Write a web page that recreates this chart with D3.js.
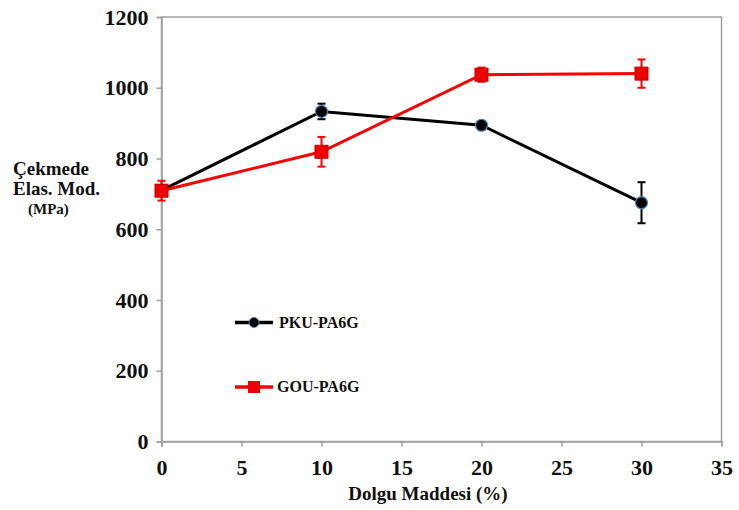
<!DOCTYPE html>
<html><head><meta charset="utf-8">
<script src="https://cdn.jsdelivr.net/npm/d3@7"></script>
<style>body{margin:0;background:#fff}svg{display:block}text{font-family:"Liberation Serif","Times New Roman",serif;font-weight:bold;fill:#111}</style>
</head><body><svg id="c" width="739" height="510"></svg>
<script>
const fillerPct = [0, 10, 20, 30];
const pkuValues = [710, 933, 894, 675];
const pkuErrors = [15, 22, 12, 58];
const gouValues = [709, 819, 1037, 1040];
const gouErrors = [28, 42, 20, 40];
const xTicks = [0, 5, 10, 15, 20, 25, 30, 35];
const yTicks = [0, 200, 400, 600, 800, 1000, 1200];
const seriesNames = ["PKU-PA6G", "GOU-PA6G"];

const svg = d3.select("#c");
const L = 161.5, R = 721.5, T = 17, B = 441.5;
const x = d3.scaleLinear().domain([0, 35]).range([L, R]);
const y = d3.scaleLinear().domain([0, 1200]).range([B, T]);

svg.append("rect").attr("x", L).attr("y", T).attr("width", R - L).attr("height", B - T)
  .attr("fill", "#fff").attr("stroke", "#a0a0a0").attr("stroke-width", 1.5);

const xAxis = svg.append("g").attr("transform", `translate(0,${B})`)
  .call(d3.axisBottom(x).tickValues(xTicks).tickFormat(d3.format("d")).tickSize(5).tickPadding(10));
const yAxis = svg.append("g").attr("transform", `translate(${L},0)`)
  .call(d3.axisLeft(y).tickValues(yTicks).tickFormat(d3.format("d")).tickSize(5).tickPadding(8));
[xAxis, yAxis].forEach(g => {
  g.attr("font-family", '"Liberation Serif",serif');
  g.select(".domain").attr("stroke", "#a0a0a0").attr("stroke-width", 1.5);
  g.selectAll(".tick line").attr("stroke", "#a0a0a0").attr("stroke-width", 1.5);
  g.selectAll(".tick text").attr("font-size", 22).attr("font-family", '"Liberation Serif",serif')
    .attr("font-weight", "bold").attr("fill", "#111");
});
xAxis.selectAll(".tick text").attr("dy", "0.85em");

function drawSeries(vals, errs, color, marker) {
  const data = fillerPct.map((d, i) => ({x: d, v: vals[i], e: errs[i]}));
  const g = svg.append("g");
  g.append("path").datum(data)
    .attr("d", d3.line().x(d => x(d.x)).y(d => y(d.v)))
    .attr("fill", "none").attr("stroke", color).attr("stroke-width", 3);
  const eb = g.selectAll(".eb").data(data).enter().append("g");
  eb.append("line").attr("x1", d => x(d.x)).attr("x2", d => x(d.x))
    .attr("y1", d => y(d.v - d.e)).attr("y2", d => y(d.v + d.e)).attr("stroke", color).attr("stroke-width", 2);
  [-1, 1].forEach(s => eb.append("line").attr("x1", d => x(d.x) - 4).attr("x2", d => x(d.x) + 4)
    .attr("y1", d => y(d.v + s * d.e)).attr("y2", d => y(d.v + s * d.e)).attr("stroke", color).attr("stroke-width", 2));
  if (marker === "circle") {
    g.selectAll(".m").data(data).enter().append("circle")
      .attr("cx", d => x(d.x)).attr("cy", d => y(d.v)).attr("r", 6)
      .attr("fill", "#000").attr("stroke", "#4f81bd").attr("stroke-width", 1.2);
  } else {
    g.selectAll(".m").data(data).enter().append("rect")
      .attr("x", d => x(d.x) - 6.5).attr("y", d => y(d.v) - 6.5).attr("width", 13).attr("height", 13)
      .attr("fill", "#ee0000").attr("stroke", "#c00000").attr("stroke-width", 1);
  }
}
drawSeries(pkuValues, pkuErrors, "#000", "circle");
drawSeries(gouValues, gouErrors, "#ff0000", "square");

const leg = [{n: seriesNames[0], c: "#000", m: "circle", y: 322.5, tx: 279},
             {n: seriesNames[1], c: "#ff0000", m: "square", y: 387, tx: 277}];
leg.forEach(l => {
  svg.append("line").attr("x1", 235).attr("x2", 273).attr("y1", l.y).attr("y2", l.y)
    .attr("stroke", l.c).attr("stroke-width", 3.5);
  if (l.m === "circle") svg.append("circle").attr("cx", 254).attr("cy", l.y).attr("r", 5)
    .attr("fill", "#000").attr("stroke", "#4f81bd").attr("stroke-width", 1);
  else svg.append("rect").attr("x", 248).attr("y", l.y - 6).attr("width", 12).attr("height", 12).attr("fill", "#ee0000");
  svg.append("text").attr("x", l.tx).attr("y", l.y + 5).attr("font-size", 16).text(l.n);
});

svg.append("text").attr("x", 428).attr("y", 500).attr("text-anchor", "middle").attr("font-size", 19).text("Dolgu Maddesi (%)");
svg.append("text").attr("x", 13).attr("y", 175).attr("font-size", 19).text("Çekmede");
svg.append("text").attr("x", 13).attr("y", 195).attr("font-size", 19).text("Elas. Mod.");
svg.append("text").attr("x", 28).attr("y", 214).attr("font-size", 15).text("(MPa)");
</script></body></html>
